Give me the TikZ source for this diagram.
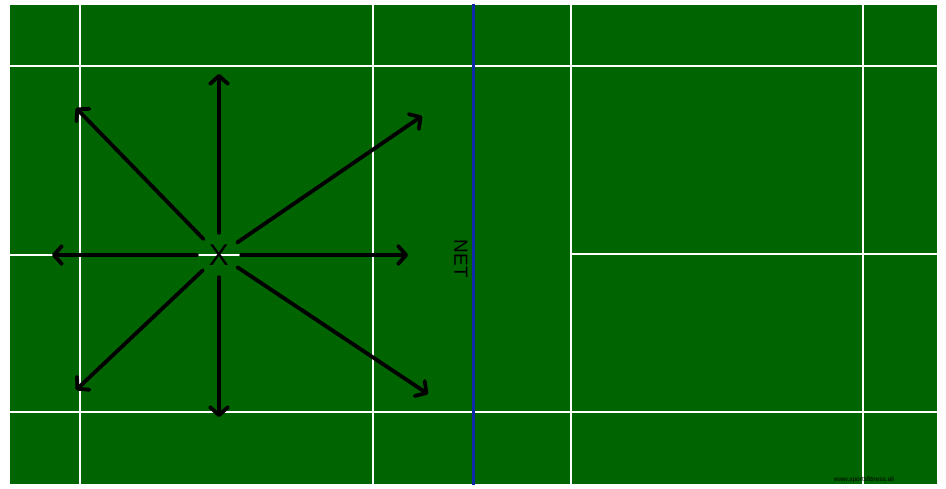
\documentclass[tikz,border=0pt]{standalone}
\usepackage{fontspec}
\setmainfont{Liberation Sans}
\usetikzlibrary{arrows.meta}
\definecolor{courtgreen}{RGB}{0,100,0}
\definecolor{netblue}{RGB}{16,40,170}
\begin{document}
\begin{tikzpicture}
    [ x=1pt, y=-1pt
    , courtline/.style={white, line width=2pt}
    , move/.style={black, line width=3.8pt, line cap=round,
        -{Straight Barb[length=8pt,width=18pt,line cap=round,line join=round]}}
    %, move/.style={-stealth}
    ]
\useasboundingbox (0,0) rectangle (946,489);
\fill[courtgreen] (10,5) rectangle (937,484);
% court lines
\draw[courtline] (10,66) -- (937,66);
\draw[courtline] (10,412) -- (937,412);
\draw[courtline] (10,255) -- (373,255);
\draw[courtline] (571,254) -- (937,254);
\draw[courtline] (80,5) -- (80,484);
\draw[courtline] (373,5) -- (373,484);
\draw[courtline] (571,5) -- (571,484);
\draw[courtline] (863,5) -- (863,484);
% net
\draw[netblue, line width=3pt] (473,4) -- (473,485);
\node[rotate=-90, font=\fontsize{19}{22}\selectfont] (net) at (461,259) {NET};
% player and moves
\node[circle, inner sep=0pt, minimum size=44pt, font=\fontsize{30}{34}\selectfont] (player) at (219,255) {X};
\coordinate (up) at (219,74);
\coordinate (upleft) at (76,108);
\coordinate (upright) at (422,116);
\coordinate (left) at (52,255);
\coordinate (right) at (408,255);
\coordinate (downleft) at (76,390);
\coordinate (down) at (219,417);
\coordinate (downright) at (428,394);
\draw[move] (player) -- (up);
\draw[move] (player) -- (upleft);
\draw[move] (player) -- (upright);
\draw[move] (player) -- (left);
\draw[move] (player) -- (right);
\draw[move] (player) -- (downleft);
\draw[move] (player) -- (down);
\draw[move] (player) -- (downright);
%\node at (864,480) {watermark};
\node[font=\fontsize{6.5}{7}\selectfont, inner sep=0.5pt] (credit) at (864,480) {www.sportsfitness.ali};
\end{tikzpicture}
\end{document}
